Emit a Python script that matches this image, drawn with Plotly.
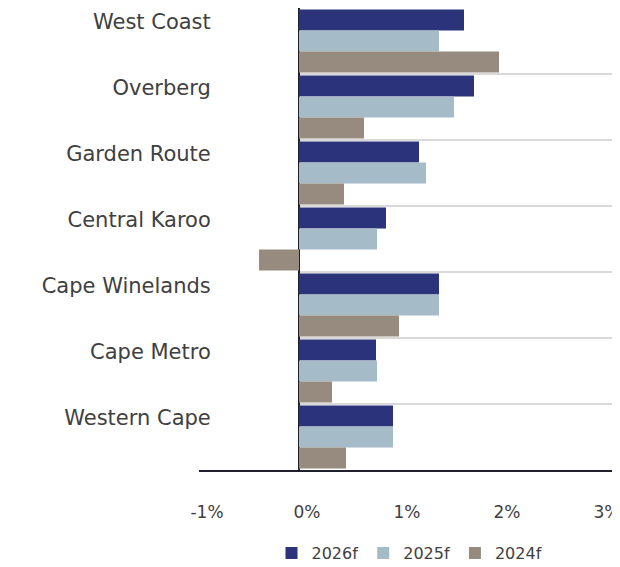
import plotly.graph_objects as go

regions = ["West Coast", "Overberg", "Garden Route", "Central Karoo",
           "Cape Winelands", "Cape Metro", "Western Cape"]
g2026 = [1.65, 1.75, 1.20, 0.87, 1.40, 0.77, 0.94]
g2025 = [1.40, 1.55, 1.27, 0.78, 1.40, 0.78, 0.94]
g2024 = [2.00, 0.65, 0.45, -0.40, 1.00, 0.33, 0.47]
series_names = ["2026f", "2025f", "2024f"]
colors = ["#2B337A", "#A5BBC8", "#978B80"]
x_ticks = [-1, 0, 1, 2, 3]
x_tick_text = ["-1%", "0%", "1%", "2%", "3%"]
x_range = [-1, 3.21]

FONT = "DejaVu Sans"
TXT = "#404040"

fig = go.Figure()
for name, vals, col in zip(series_names, [g2026, g2025, g2024], colors):
    fig.add_trace(go.Bar(
        y=regions, x=vals, name=name, orientation="h",
        marker=dict(color=col, line=dict(width=0)),
    ))

# light separators between categories (right of zero)
for i in range(len(regions) - 1):
    fig.add_shape(type="line", xref="x", yref="y",
                  x0=0, x1=x_range[1], y0=i + 0.5, y1=i + 0.5,
                  line=dict(color="#D9D9D9", width=2), layer="below")

fig.update_layout(
    width=612, height=559,
    margin=dict(l=191, r=0, t=0, b=97, autoexpand=False),
    paper_bgcolor="white", plot_bgcolor="white",
    barmode="group", bargap=0.045, bargroupgap=0,
    font=dict(family=FONT, color=TXT),
    legend=dict(orientation="h", x=0.5, xanchor="center", y=-0.18,
                yanchor="middle", font=dict(size=16, color=TXT),
                itemwidth=30, tracegroupgap=0),
    showlegend=True,
)
fig.update_xaxes(
    range=x_range, tickvals=x_ticks, ticktext=x_tick_text,
    showgrid=False, zeroline=True, zerolinecolor="#1F1F2E", zerolinewidth=2,
    showline=True, linecolor="#1F1F2E", linewidth=2,
    ticks="", tickfont=dict(size=17, color=TXT),
    ticklabelstandoff=26, ticklabelshift=8, ticklabeloverflow="allow",
    automargin=False,
)
fig.update_yaxes(
    categoryorder="array", categoryarray=regions, autorange="reversed",
    showgrid=False, showline=False, zeroline=False, ticks="",
    tickfont=dict(size=21, color=TXT), ticklabelstandoff=0,
    ticklabelshift=19, automargin=False,
    anchor="free", position=0.028,
)

fig.write_html("out.html")
